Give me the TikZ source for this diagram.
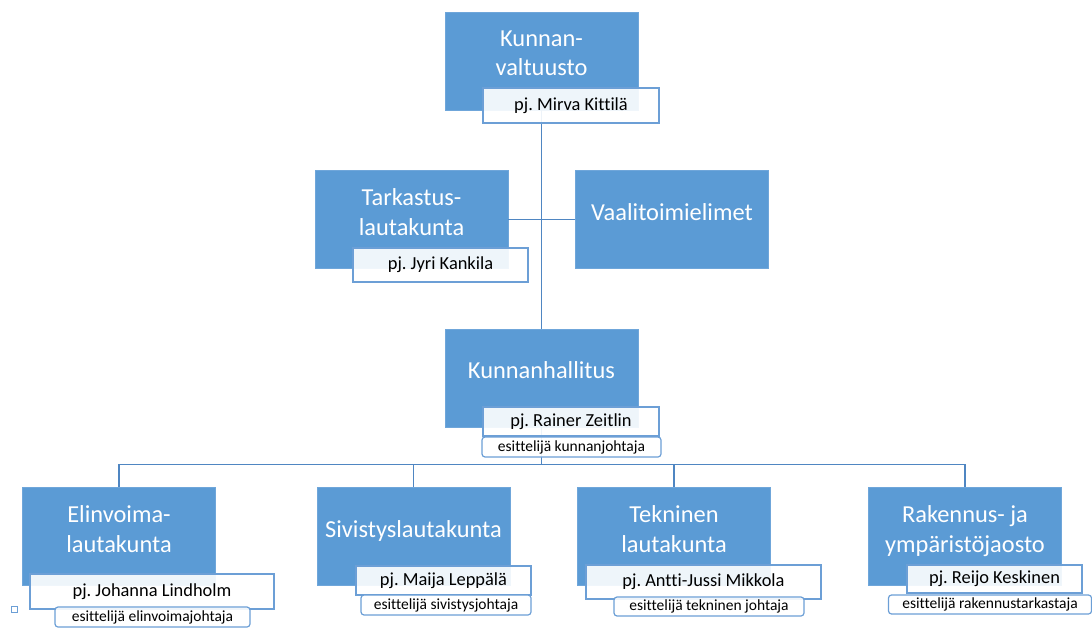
\documentclass[tikz,border=0pt]{standalone}
\usepackage{fontspec}
\setmainfont{Carlito}[Ligatures=NoCommon]
\frenchspacing
\usetikzlibrary{calc,positioning}
\definecolor{orgblue}{HTML}{5B9BD5}
\definecolor{orgedge}{HTML}{6FA6DA}
\definecolor{lblue}{HTML}{6C9FD6}
\definecolor{linkblue}{HTML}{4F86C2}
\tikzset{
  organ/.style={rectangle, fill=orgblue, draw=orgedge, line width=0.8pt, text=white,
    font=\fontsize{24.4}{29.3}\selectfont, align=center, inner sep=0pt,
    minimum width=193pt, minimum height=98pt, text depth=15pt},
  chair/.style={rectangle, fill=white, fill opacity=0.9, text opacity=1, draw=lblue,
    line width=1.2pt, font=\fontsize{18.4}{22}\selectfont, inner sep=0pt},
  presenter/.style={chair, rounded corners=3pt, font=\fontsize{15.5}{18}\selectfont},
  link/.style={draw=linkblue, line width=1.4pt},
}
\begin{document}
\begin{tikzpicture}[x=1pt,y=-1pt]
\useasboundingbox (0,0) rectangle (1092,628);
% toimielimet
\node[organ] (kv) at (541.5,61) {Kunnan-\\valtuusto};
\node[organ] (tl) at (411.5,219.5) {Tarkastus-\\lautakunta};
\node[organ] (vt) at (672,219.5) {Vaalitoimielimet};
\node[organ] (kh) at (541.5,378) {Kunnanhallitus};
\node[organ] (el) at (119,536.5) {Elinvoima-\\lautakunta};
\node[organ] (si) at (413.5,536.5) {Sivistyslautakunta};
\node[organ] (tek) at (674,536.5) {Tekninen\\lautakunta};
\node[organ] (rak) at (965,536.5) {Rakennus- ja\\ympäristöjaosto};
% yhteydet
\draw[link] (kv.south) -- (kh.north);
\draw[link] (tl.east) -- (vt.west);
\draw[link] (kh.south) -- ++(0,37) coordinate (bus);
\draw[link] (el.north) |- (bus) -| (rak.north);
\draw[link] (si.north) -- (si.north |- bus);
\draw[link] (tek.north) -- (tek.north |- bus);
% puheenjohtajat ja esittelijat
\node[chair, minimum width=176pt, minimum height=35pt] (kvpj) at (571,105.5) {pj. Mirva Kittilä};
\node[chair, minimum width=175pt, minimum height=34pt] (tlpj) at (440.5,265) {pj. Jyri Kankila};
\node[chair, minimum width=176pt, minimum height=29pt] (khpj) at (571,421.5) {pj. Rainer Zeitlin};
\node[presenter, minimum width=179pt, minimum height=20pt] (khes) at (571.5,447) {esittelijä kunnanjohtaja};
\node[chair, minimum width=244pt, minimum height=35pt] (elpj) at (152,591.5) {pj. Johanna Lindholm};
\node[presenter, minimum width=195pt, minimum height=20pt] (eles) at (152.5,617) {esittelijä elinvoimajohtaja};
\node[chair, minimum width=175pt, minimum height=29pt] (sipj) at (443.5,580.5) {pj. Maija Leppälä};
\node[presenter, minimum width=170pt, minimum height=20pt] (sies) at (446,605) {esittelijä sivistysjohtaja};
\node[chair, minimum width=235pt, minimum height=34pt] (tekpj) at (703.5,582) {pj. Antti-Jussi Mikkola};
\node[presenter, minimum width=190pt, minimum height=19pt] (tekes) at (709,606.5) {esittelijä tekninen johtaja};
\node[chair, minimum width=175pt, minimum height=28pt] (rakpj) at (994.5,579) {pj. Reijo Keskinen};
\node[presenter, minimum width=203pt, minimum height=19pt] (rakes) at (990,604.5) {esittelijä rakennustarkastaja};
\node[draw=lblue, fill=white, line width=1pt, minimum size=6pt, inner sep=0pt] (handle) at (14,609.5) {};
\end{tikzpicture}
\end{document}
